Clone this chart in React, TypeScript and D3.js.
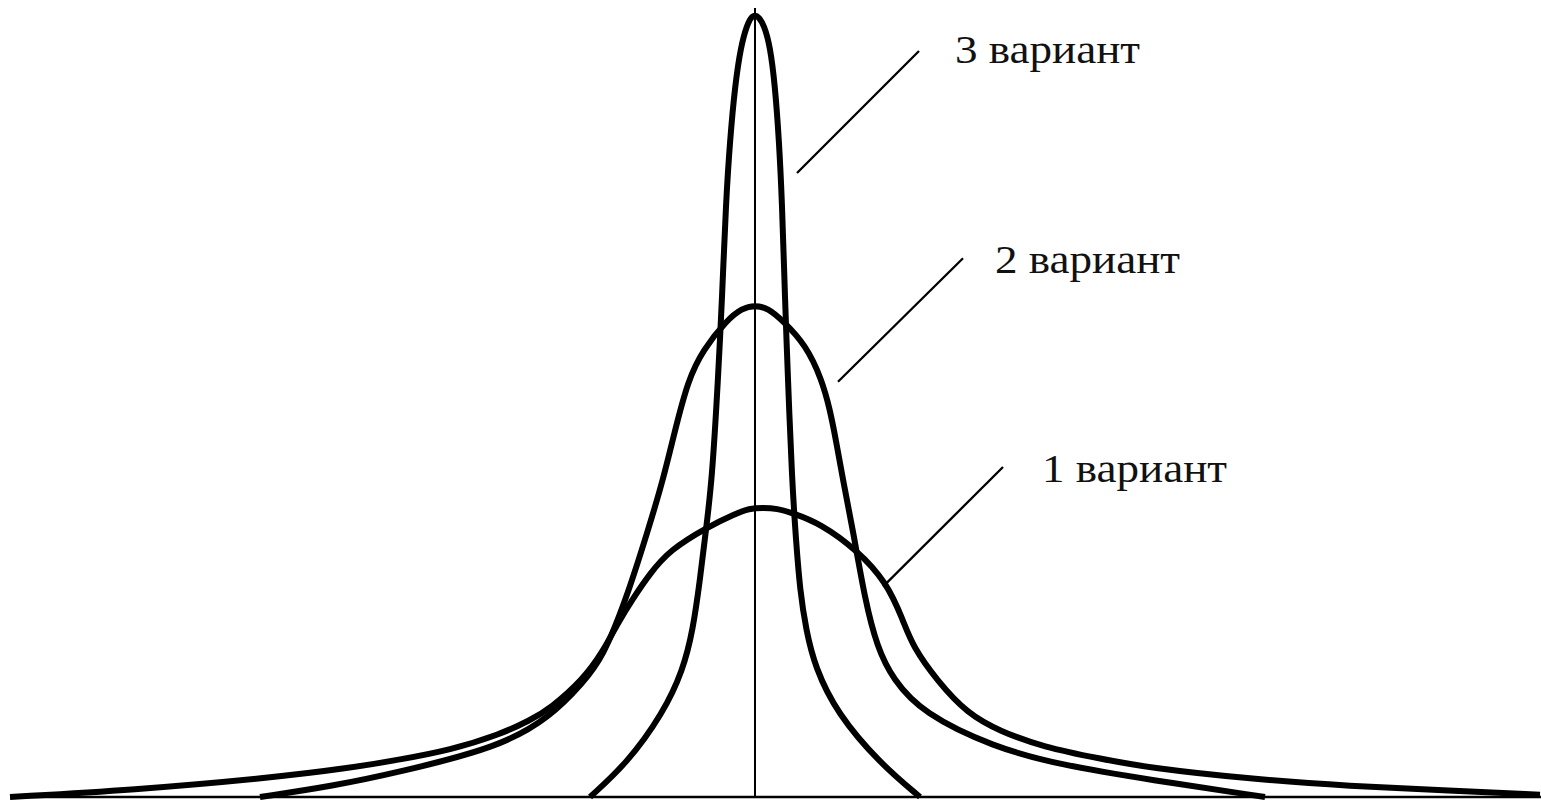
import React from "react";
import * as d3 from "d3";

// Deviation from centre (x) and relative frequency, % of the tallest peak (y)
const variant1X = [-74.5, -62.2, -48.8, -40.5, -35.5, -30.5, -25.5, -22.5, -20.5, -17.2, -15.2, -13.7, -12.3, -10.5, -8.5, -4.8, -2.0, -0.6, 0.8, 2.2, 3.8, 6.5, 10.2, 13.2, 14.8, 15.8, 18.2, 21.2, 24.5, 28.8, 34.5, 39.5, 49.5, 59.5, 69.5, 78.5];
const variant1Y = [0, 0.9, 2.4, 3.7, 4.8, 6.0, 8.0, 9.8, 11.3, 15.0, 18.6, 22.3, 25.2, 28.6, 31.6, 34.5, 36.2, 36.9, 37.0, 36.9, 36.3, 35.0, 31.6, 27.4, 22.6, 19.2, 14.9, 10.7, 8.4, 6.4, 4.9, 3.7, 2.3, 1.4, 0.8, 0.3];

const variant2X = [-49.5, -42.2, -35.5, -25.5, -20.5, -17.2, -15.2, -12.9, -10.7, -9.2, -8.0, -6.7, -5.2, -2.8, -1.3, 0, 1.3, 2.7, 5.1, 6.7, 7.5, 8.1, 8.8, 9.8, 11.0, 12.2, 13.8, 16.8, 23.8, 30.5, 39.5, 51.0];
const variant2Y = [0, 1.4, 3.2, 6.4, 10.2, 14.6, 17.9, 25.2, 34.1, 40.5, 46.9, 53.3, 57.2, 61.0, 62.5, 62.9, 62.5, 61.0, 57.8, 53.3, 49.5, 45.6, 40.5, 34.1, 25.2, 19.2, 15.0, 10.7, 6.4, 4.1, 2.2, 0];

const variant3X = [-16.5, -12.8, -9.2, -7.2, -6.2, -5.5, -4.9, -4.3, -3.7, -3.3, -2.9, -2.5, -2.0, -1.4, -0.8, -0.4, 0, 0.4, 0.9, 1.5, 2.0, 2.4, 2.7, 3.0, 3.3, 3.7, 4.1, 4.5, 5.1, 6.0, 8.2, 12.5, 16.5];
const variant3Y = [0, 4.3, 10.7, 16.2, 21.4, 27.8, 34.2, 40.5, 53.3, 63.6, 76.3, 84.0, 91.0, 96.1, 98.7, 99.7, 100, 99.7, 98.7, 96.1, 91.0, 84.0, 76.3, 63.6, 53.3, 40.5, 32.8, 26.4, 21.4, 16.6, 10.7, 4.3, 0];

const labels = ["3 вариант", "2 вариант", "1 вариант"];
const labelX = [20.0, 24.0, 28.7];
const labelY = [93.9, 67.0, 40.3];
const leaderX1 = [16.4, 20.8, 24.8];
const leaderY1 = [95.4, 68.9, 42.2];
const leaderX2 = [4.2, 8.3, 12.8];
const leaderY2 = [79.8, 53.1, 26.9];

const X_MIN = -74.5;
const X_MAX = 78.6;
const AXIS_TOP = 100.9;

const W = 1541;
const H = 801;

export default function App() {
  const x = d3.scaleLinear().domain([X_MIN, 78.5]).range([10, 1540]);
  const y = d3.scaleLinear().domain([0, 100]).range([797, 15]);

  const line = d3
    .line<[number, number]>()
    .x((d) => x(d[0]))
    .y((d) => y(d[1]))
    .curve(d3.curveBasis);

  const series = [
    [variant1X, variant1Y],
    [variant2X, variant2Y],
    [variant3X, variant3Y],
  ].map(([xs, ys]) => xs.map((v, i) => [v, ys[i]] as [number, number]));

  return (
    <svg
      width={W}
      height={H}
      style={{ position: "absolute", left: 0, top: 0, display: "block", background: "#fff" }}
    >
      <line x1={x(X_MIN)} x2={x(X_MAX)} y1={y(0)} y2={y(0)} stroke="#000" strokeWidth={2.5} />
      <line x1={x(0)} x2={x(0)} y1={y(0)} y2={y(AXIS_TOP)} stroke="#000" strokeWidth={2} />
      {series.map((s, i) => (
        <path key={i} d={line(s) || ""} fill="none" stroke="#000" strokeWidth={6} strokeLinejoin="round" />
      ))}
      {labels.map((t, i) => (
        <g key={t}>
          <line
            x1={x(leaderX1[i])}
            y1={y(leaderY1[i])}
            x2={x(leaderX2[i])}
            y2={y(leaderY2[i])}
            stroke="#000"
            strokeWidth={2.3}
          />
          <text
            x={x(labelX[i])}
            y={y(labelY[i])}
            fontFamily="'Liberation Serif', 'Times New Roman', serif"
            fontSize={40}
            textLength={185}
            lengthAdjust="spacingAndGlyphs"
            fill="#111"
          >
            {t}
          </text>
        </g>
      ))}
    </svg>
  );
}
